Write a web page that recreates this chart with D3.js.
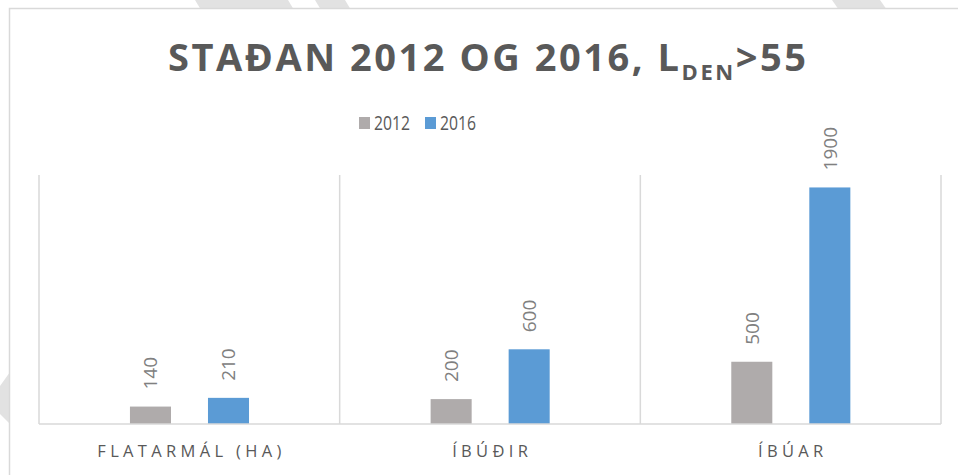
<!DOCTYPE html>
<html lang="is">
<head>
    <meta charset="utf-8">
    <title>Staðan 2012 og 2016</title>
    <style>
        body { margin: 0; background: #fff; }
        svg { display: block; }
    </style>
</head>
<body>
<script src="https://cdn.jsdelivr.net/npm/d3@7"></script>
<script>

    var categories = ["FLATARMÁL (HA)", "ÍBÚÐIR", "ÍBÚAR"];
    var seriesNames = ["2012", "2016"];
    var values2012 = [140, 200, 500];
    var values2016 = [210, 600, 1900];
    var seriesColors = ["#AFABAB", "#5B9BD5"];

    var width = 958,
        height = 475;

    var plot = {left: 39, right: 941, top: 175, bottom: 424};

    var svg = d3.select("body").append("svg")
        .attr("width", width)
        .attr("height", height);

    // faint slide decoration behind the chart
    var stripes = [
        [[195, 0], [288, 0], [294, 10], [201, 10]],
        [[315, 0], [345, 0], [351, 10], [321, 10]],
        [[832, 0], [880, 0], [887, 10], [839, 10]],
        [[0, 386], [10, 372], [10, 424], [0, 414]]
    ];
    svg.selectAll(".stripe")
        .data(stripes)
        .enter()
        .append("polygon")
        .attr("class", "stripe")
        .attr("points", function (d) { return d.map(function (p) { return p.join(","); }).join(" "); })
        .attr("fill", "#E2E2E2");

    // chart area
    svg.append("rect")
        .attr("x", 9.5)
        .attr("y", 8.5)
        .attr("width", width + 20)
        .attr("height", height + 20)
        .attr("fill", "#fff")
        .attr("stroke", "#D9D9D9")
        .attr("stroke-width", 1.5);

    var x0 = d3.scaleBand()
        .domain(categories)
        .range([plot.left, plot.right])
        .padding(0);

    var bw = x0.bandwidth();
    var x1 = d3.scaleBand()
        .domain(seriesNames)
        .range([bw * 0.3025, bw * 0.6985])
        .paddingInner(0.474);

    var y = d3.scaleLinear()
        .domain([0, 2000])
        .range([plot.bottom, plot.top]);

    // vertical separators between categories
    var sepX = categories.map(function (c) { return x0(c); }).concat([plot.right]);
    svg.selectAll(".sep")
        .data(sepX)
        .enter()
        .append("line")
        .attr("class", "sep")
        .attr("x1", function (d) { return d; })
        .attr("x2", function (d) { return d; })
        .attr("y1", y(2000))
        .attr("y2", y(0))
        .attr("stroke", "#D9D9D9")
        .attr("stroke-width", 1.5);

    var rows = [];
    categories.forEach(function (c, i) {
        rows.push({cat: c, s: "2012", v: values2012[i], color: seriesColors[0]});
        rows.push({cat: c, s: "2016", v: values2016[i], color: seriesColors[1]});
    });

    svg.selectAll(".bar")
        .data(rows)
        .enter()
        .append("rect")
        .attr("class", "bar")
        .attr("x", function (d) { return x0(d.cat) + x1(d.s); })
        .attr("y", function (d) { return y(d.v); })
        .attr("width", x1.bandwidth())
        .attr("height", function (d) { return y(0) - y(d.v); })
        .attr("fill", function (d) { return d.color; });

    // baseline
    svg.append("line")
        .attr("x1", plot.left)
        .attr("x2", plot.right)
        .attr("y1", y(0))
        .attr("y2", y(0))
        .attr("stroke", "#D9D9D9")
        .attr("stroke-width", 1.5);

    // rotated value labels
    svg.selectAll(".val")
        .data(rows)
        .enter()
        .append("text")
        .attr("class", "val")
        .attr("transform", function (d) {
            var cx = x0(d.cat) + x1(d.s) + x1.bandwidth() / 2;
            return "translate(" + cx + "," + (y(d.v) - 17) + ") rotate(-90)";
        })
        .attr("dy", "0.36em")
        .style("font-family", "'Open Sans', sans-serif")
        .style("font-size", "19px")
        .style("fill", "#808080")
        .style("text-anchor", "start")
        .text(function (d) { return d.v; });

    // category labels
    var catLabels = svg.selectAll(".cat")
        .data(categories)
        .enter()
        .append("text")
        .attr("class", "cat")
        .attr("x", function (d) { return x0(d) + bw / 2; })
        .attr("y", 457)
        .style("font-family", "'Open Sans', sans-serif")
        .style("font-size", "16.5px")
        .style("fill", "#595959")
        .style("text-anchor", "middle")
        .text(function (d) { return d; });

    var firstW = catLabels.node().getComputedTextLength();
    var catLs = (184 - firstW) / (categories[0].length - 1);
    catLabels
        .style("letter-spacing", catLs + "px")
        .attr("dx", catLs / 2);

    // title
    var title = svg.append("text")
        .attr("x", width / 2 + 8)
        .attr("y", 71)
        .style("font-family", "'Open Sans', sans-serif")
        .style("font-weight", "bold")
        .style("font-size", "38px")
        .style("fill", "#595959")
        .style("text-anchor", "middle");
    title.append("tspan").text("STAÐAN 2012 OG 2016, L");
    title.append("tspan").attr("dy", 9).style("font-size", "22px").text("DEN");
    title.append("tspan").attr("dy", -9).text(">55");

    var titleW = title.node().getBBox().width;
    var titleLs = (638 - titleW) / 27;
    title.style("letter-spacing", titleLs + "px")
        .attr("dx", titleLs / 2);

    // legend
    var legendItems = [
        {name: seriesNames[0], color: seriesColors[0], x: 359},
        {name: seriesNames[1], color: seriesColors[1], x: 425}
    ];
    var lg = svg.selectAll(".legend")
        .data(legendItems)
        .enter()
        .append("g")
        .attr("class", "legend")
        .attr("transform", function (d) { return "translate(" + d.x + ",117)"; });
    lg.append("rect")
        .attr("width", 11)
        .attr("height", 12)
        .attr("fill", function (d) { return d.color; });
    lg.append("text")
        .attr("x", 15)
        .attr("y", 13)
        .attr("textLength", 36)
        .attr("lengthAdjust", "spacingAndGlyphs")
        .style("font-family", "'Open Sans', sans-serif")
        .style("font-size", "19.5px")
        .style("fill", "#595959")
        .text(function (d) { return d.name; });

</script>
</body>
</html>
